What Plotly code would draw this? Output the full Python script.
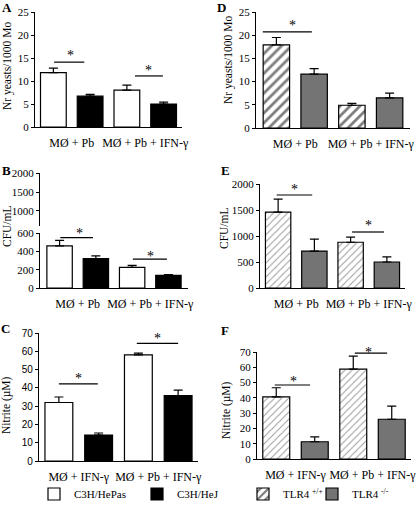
import plotly.graph_objects as go

W, H = 416, 506
SERIF = "Liberation Serif"
SANS = "Liberation Sans"

# ---------------- data ----------------
cats_pb = ["MØ + Pb", "MØ + Pb + IFN-γ"]
cats_ifn = ["MØ + IFN-γ", "MØ + Pb + IFN-γ"]

# Panel A: yeasts / 1000 Mo
a_hepas = [11.8, 8.0]
a_hepas_err = [1.0, 1.1]
a_hej = [6.7, 5.0]
a_hej_err = [0.4, 0.4]

# Panel D: yeasts / 1000 Mo
d_wt = [17.9, 4.9]
d_wt_err = [1.6, 0.4]
d_ko = [11.6, 6.5]
d_ko_err = [1.2, 1.0]

# Panel B: CFU/mL
b_hepas = [460, 225]
b_hepas_err = [60, 22]
b_hej = [322, 138]
b_hej_err = [28, 8]

# Panel E: CFU/mL
e_wt = [1460, 880]
e_wt_err = [250, 100]
e_ko = [710, 500]
e_ko_err = [230, 100]

# Panel C: Nitrite
c_hepas = [32, 58]
c_hepas_err = [3, 1]
c_hej = [14.2, 35.8]
c_hej_err = [1.1, 3]

# Panel F: Nitrite
f_wt = [40.6, 58.8]
f_wt_err = [6, 8.5]
f_ko = [11.3, 26]
f_ko_err = [3.2, 8.6]

# significance markers: lines [x0, x1, y] (x in category-index units), stars x / y
sig_a = [[-0.24, 0.17, 14.1], [0.86, 1.24, 11.1]]
star_a_x, star_a_y = [-0.02, 1.04], [15.6, 12.2]
sig_d = [[-0.43, 0.22, 20.7]]
star_d_x, star_d_y = [-0.03], [22.1]
sig_b = [[-0.24, 0.21, 549], [0.76, 1.23, 316]]
star_b_x, star_b_y = [0.02, 1.0], [598, 347]
sig_e = [[-0.27, 0.22, 1788], [0.77, 1.21, 1077]]
star_e_x, star_e_y = [-0.03, 0.99], [1892, 1202]
sig_c = [[-0.25, 0.24, 42.2], [0.73, 1.25, 64.3]]
star_c_x, star_c_y = [0.0, 0.99], [44.9, 67.2]
sig_f = [[-0.27, 0.19, 48.4], [0.77, 1.19, 69.3]]
star_f_x, star_f_y = [-0.02, 0.95], [50.6, 69.9]

legend_left = ["C3H/HePas", "C3H/HeJ"]
legend_right = ["TLR4 <sup>+/+</sup>", "TLR4 <sup>-/-</sup>"]

# ---------------- helpers ----------------
def xd(x0, x1):
    return [x0 / W, x1 / W]

def yd(ybot, ytop):
    return [1 - ybot / H, 1 - ytop / H]

GRAY = "#747474"
white_marker = dict(color="white", line=dict(color="black", width=1.2))
black_marker = dict(color="black", line=dict(color="black", width=1.2))
hatch_bold = dict(color="white", line=dict(color="black", width=1.2),
                  pattern=dict(shape="/", fgcolor="black", bgcolor="white", size=7, solidity=0.4))
hatch_fine = dict(color="white", line=dict(color="black", width=1.2),
                  pattern=dict(shape="/", fgcolor="#333333", bgcolor="white", size=5, solidity=0.2))
gray_marker = dict(color=GRAY, line=dict(color="black", width=1.2))


def err(arr):
    return dict(type="data", array=arr, arrayminus=[0] * len(arr), symmetric=False,
                color="black", thickness=1.2, width=4.5)

fig = go.Figure()

def add_pair(cats, v1, e1, m1, n1, v2, e2, m2, n2, xa, ya, legend=None, lw=(None, None)):
    show = legend is not None
    pos = list(range(len(cats)))
    kw1 = dict(legendwidth=lw[0]) if (show and lw[0]) else {}
    kw2 = dict(legendwidth=lw[1]) if (show and lw[1]) else {}
    fig.add_trace(go.Bar(x=pos, y=v1, error_y=err(e1), marker=m1, name=n1,
                         xaxis=xa, yaxis=ya, showlegend=show,
                         legend=legend if show else "legend", **kw1))
    fig.add_trace(go.Bar(x=pos, y=v2, error_y=err(e2), marker=m2, name=n2,
                         xaxis=xa, yaxis=ya, showlegend=show,
                         legend=legend if show else "legend", **kw2))

add_pair(cats_pb, a_hepas, a_hepas_err, white_marker, legend_left[0],
         a_hej, a_hej_err, black_marker, legend_left[1], "x", "y", legend="legend",
         lw=(58, 60))
add_pair(cats_pb, d_wt, d_wt_err, hatch_bold, legend_right[0],
         d_ko, d_ko_err, gray_marker, legend_right[1], "x2", "y2", legend="legend2",
         lw=(24, 45))
add_pair(cats_pb, b_hepas, b_hepas_err, white_marker, legend_left[0],
         b_hej, b_hej_err, black_marker, legend_left[1], "x3", "y3")
add_pair(cats_pb, e_wt, e_wt_err, hatch_fine, legend_right[0],
         e_ko, e_ko_err, gray_marker, legend_right[1], "x4", "y4")
add_pair(cats_ifn, c_hepas, c_hepas_err, white_marker, legend_left[0],
         c_hej, c_hej_err, black_marker, legend_left[1], "x5", "y5")
add_pair(cats_ifn, f_wt, f_wt_err, hatch_fine, legend_right[0],
         f_ko, f_ko_err, gray_marker, legend_right[1], "x6", "y6")

# empty trace so the upper segment of the broken axis in panel B gets a subplot
fig.add_trace(go.Scatter(x=[], y=[], xaxis="x3", yaxis="y7", showlegend=False, hoverinfo="skip"))

tickfont = dict(family=SERIF, size=11, color="black")

def xaxis(dom, anchor, cats, rng=(-0.5, 1.5)):
    return dict(domain=dom, anchor=anchor, range=list(rng), showline=True, linecolor="black",
                linewidth=1.2, ticks="", showgrid=False, zeroline=False,
                tickvals=list(range(len(cats))), ticktext=cats, tickangle=0,
                tickfont=dict(family=SERIF, size=12, color="black"),
                ticklabelstandoff=4, ticklabeloverflow="allow", fixedrange=True)

def yaxis(dom, anchor, rng, dtick=None, tickvals=None, font=tickfont):
    d = dict(domain=dom, anchor=anchor, range=rng, showline=True, linecolor="black",
             linewidth=1.2, ticks="outside", ticklen=3, tickwidth=1, tickcolor="black",
             showgrid=False, zeroline=False, tickfont=font, fixedrange=True)
    if dtick is not None:
        d["dtick"] = dtick
        d["tick0"] = 0
    if tickvals is not None:
        d["tickvals"] = tickvals
    return d

layout = dict(
    width=W, height=H, margin=dict(l=0, r=0, t=0, b=0, autoexpand=False),
    paper_bgcolor="white", plot_bgcolor="white",
    barmode="group", bargap=0.0, bargroupgap=0.3,
    font=dict(family=SERIF, color="black"),
    xaxis=xaxis(xd(35, 182), "y", cats_pb),
    yaxis=yaxis(yd(127, 12), "x", [0, 25], dtick=5),
    xaxis2=xaxis(xd(256, 410), "y2", cats_pb, (-0.52, 1.52)),
    yaxis2=yaxis(yd(128, 12), "x2", [0, 25], dtick=5),
    xaxis3=xaxis(xd(40, 188), "y3", cats_pb, (-0.52, 1.52)),
    yaxis3=yaxis(yd(288, 233), "x3", [0, 600], dtick=200),
    yaxis7=yaxis(yd(226, 173), "x3", [605, 2000], tickvals=[1000, 1500, 2000]),
    xaxis4=xaxis(xd(260, 405), "y4", cats_pb),
    yaxis4=yaxis(yd(288, 184), "x4", [0, 2000], dtick=500),
    xaxis5=xaxis(xd(39, 198), "y5", cats_ifn),
    yaxis5=yaxis(yd(461, 333), "x5", [0, 70], dtick=10,
                 font=dict(family=SANS, size=10, color="black")),
    xaxis6=xaxis(xd(257, 411), "y6", cats_ifn),
    yaxis6=yaxis(yd(459, 352), "x6", [0, 70], dtick=10),
    showlegend=True,
    legend=dict(orientation="h", x=34 / W, y=1 - 494 / H, xanchor="left", yanchor="middle",
                font=dict(family=SERIF, size=11, color="black"), bgcolor="rgba(0,0,0,0)",
                itemwidth=30, traceorder="normal", itemclick=False),
    legend2=dict(orientation="h", x=243 / W, y=1 - 494 / H, xanchor="left", yanchor="middle",
                 font=dict(family=SERIF, size=11, color="black"), bgcolor="rgba(0,0,0,0)",
                 itemwidth=30, traceorder="normal", itemclick=False),
)
fig.update_layout(**layout)

# significance lines and stars
for xa, ya, sigs, sx, sy in [("x", "y", sig_a, star_a_x, star_a_y),
                             ("x2", "y2", sig_d, star_d_x, star_d_y),
                             ("x3", "y3", sig_b, star_b_x, star_b_y),
                             ("x4", "y4", sig_e, star_e_x, star_e_y),
                             ("x5", "y5", sig_c, star_c_x, star_c_y),
                             ("x6", "y6", sig_f, star_f_x, star_f_y)]:
    for x0, x1, yv in sigs:
        fig.add_shape(type="line", xref=xa, yref=ya, x0=x0, x1=x1, y0=yv, y1=yv,
                      line=dict(color="black", width=1.2))
    for px_, py_ in zip(sx, sy):
        fig.add_annotation(xref=xa, yref=ya, x=px_, y=py_, text="*", showarrow=False,
                           font=dict(family=SERIF, size=14, color="black"),
                           xanchor="center", yanchor="middle")

# panel letters
letters = [("A", 7, 7), ("D", 221, 7), ("B", 6, 170), ("E", 225, 170), ("C", 5, 328), ("F", 225, 330)]
for t, px, py in letters:
    fig.add_annotation(xref="paper", yref="paper", x=px / W, y=1 - py / H, text="<b>%s</b>" % t,
                       showarrow=False, font=dict(family=SERIF, size=13, color="black"),
                       xanchor="center", yanchor="middle")

# y-axis titles
ytitles = [("Nr yeasts/1000 Mo", 7, 66), ("Nr yeasts/1000 Mo", 229, 60),
           ("CFU/mL", 7, 226), ("CFU/mL", 224, 228),
           ("Nitrite (µM)", 6, 405), ("Nitrite (µM)", 226, 410)]
for t, px, py in ytitles:
    fig.add_annotation(xref="paper", yref="paper", x=px / W, y=1 - py / H, text=t,
                       showarrow=False, textangle=-90,
                       font=dict(family=SERIF, size=11.5, color="black"),
                       xanchor="center", yanchor="middle")

fig.write_html("out.html", config={"displayModeBar": False},
               post_script="document.body.style.margin='0';")
